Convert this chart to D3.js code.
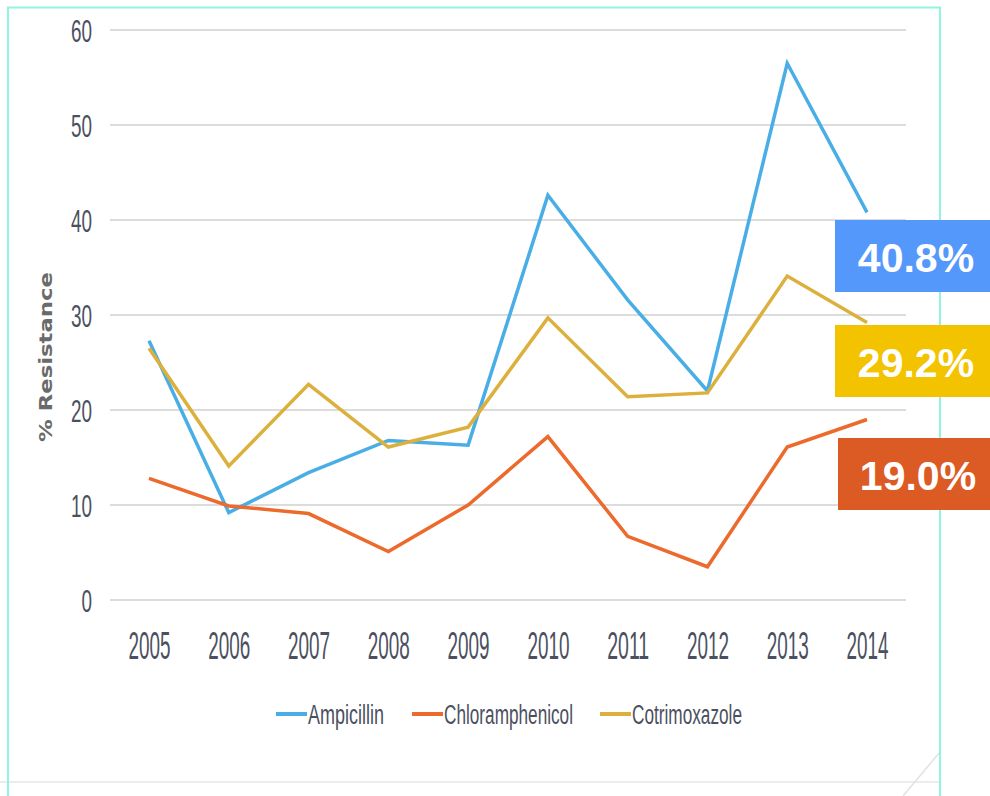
<!DOCTYPE html>
<html>
<head>
<meta charset="utf-8">
<script src="https://cdn.jsdelivr.net/npm/d3@7"></script>
<style>
  body { margin: 0; background: #fff; }
  svg { display: block; }
</style>
</head>
<body>
<svg id="chart" width="990" height="796"></svg>
<script>
var YEARS = ['2005','2006','2007','2008','2009','2010','2011','2012','2013','2014'];
var AMPICILLIN = [27.3, 9.2, 13.4, 16.8, 16.3, 42.6, 31.6, 22.0, 56.5, 40.8];
var CHLORAMPHENICOL = [12.8, 9.9, 9.1, 5.1, 10.0, 17.2, 6.7, 3.5, 16.1, 19.0];
var COTRIMOXAZOLE = [26.5, 14.1, 22.7, 16.1, 18.2, 29.7, 21.4, 21.8, 34.1, 29.2];
var Y_TICKS = [0, 10, 20, 30, 40, 50, 60];
var SERIES_NAMES = ['Ampicillin', 'Chloramphenicol', 'Cotrimoxazole'];
var BADGES = ['40.8%', '29.2%', '19.0%'];

var series = [
    {name: SERIES_NAMES[0], values: AMPICILLIN, color: '#4aaee6'},
    {name: SERIES_NAMES[1], values: CHLORAMPHENICOL, color: '#ec6a2c'},
    {name: SERIES_NAMES[2], values: COTRIMOXAZOLE, color: '#dcb03c'}
];

var svg = d3.select('#chart');
var tickFont = '"Liberation Sans", Arial, sans-serif';
var textColor = '#4b5060';

// frame
svg.append('line').attr('x1', 0).attr('x2', 940).attr('y1', 782).attr('y2', 782)
    .attr('stroke', '#ececec').attr('stroke-width', 2);
svg.append('line').attr('x1', 903).attr('x2', 940).attr('y1', 796).attr('y2', 752)
    .attr('stroke', '#e2e2e2').attr('stroke-width', 1.5);
svg.append('path').attr('d', 'M8,800V7.5H940V800')
    .attr('fill', 'none').attr('stroke', '#90f5dc').attr('stroke-width', 2);

var x = d3.scalePoint().domain(YEARS).range([149, 867]);
var y = d3.scaleLinear().domain([0, 60]).range([600, 30]);

// gridlines
svg.append('g')
    .selectAll('line')
    .data(Y_TICKS)
    .enter()
    .append('line')
    .attr('x1', 110).attr('x2', 906)
    .attr('y1', d => y(d)).attr('y2', d => y(d))
    .attr('stroke', '#dcdcdc').attr('stroke-width', 2);

// y axis - condensed look via textLength
var yAxis = svg.append('g')
    .attr('transform', 'translate(92,0)')
    .call(d3.axisLeft(y).tickValues(Y_TICKS).tickSize(0).tickPadding(0));
yAxis.select('.domain').remove();
yAxis.selectAll('text')
    .attr('font-family', tickFont).attr('font-size', 32)
    .attr('fill', textColor).attr('dy', '0.36em')
    .attr('textLength', d => String(d).length * 10.5)
    .attr('lengthAdjust', 'spacingAndGlyphs');

// x axis
var xAxis = svg.append('g')
    .attr('transform', 'translate(0,632)')
    .call(d3.axisBottom(x).tickSize(0).tickPadding(0));
xAxis.select('.domain').remove();
xAxis.selectAll('text')
    .attr('font-family', tickFont).attr('font-size', 38)
    .attr('fill', textColor).attr('dy', '0.72em')
    .attr('textLength', 42)
    .attr('lengthAdjust', 'spacingAndGlyphs');

// y label
svg.append('text')
    .attr('transform', 'translate(52,357) rotate(-90)')
    .attr('text-anchor', 'middle')
    .attr('font-family', '"DejaVu Sans", sans-serif')
    .attr('font-weight', 'bold')
    .attr('font-size', 18)
    .attr('textLength', 170)
    .attr('lengthAdjust', 'spacingAndGlyphs')
    .attr('fill', '#6a6a6a')
    .text('% Resistance');

// lines
var line = d3.line()
    .x((d, i) => x(YEARS[i]))
    .y(d => y(d));

svg.append('g')
    .selectAll('path')
    .data(series)
    .enter()
    .append('path')
    .attr('d', d => line(d.values))
    .attr('fill', 'none')
    .attr('stroke', d => d.color)
    .attr('stroke-width', 3.5)
    .attr('stroke-linejoin', 'miter');

// legend
var legendX = [276, 412, 600];
var legendW = [76, 129, 110];
var legend = svg.append('g').attr('transform', 'translate(0,714)');
var item = legend.selectAll('g')
    .data(series)
    .enter()
    .append('g')
    .attr('transform', (d, i) => 'translate(' + legendX[i] + ',0)');
item.append('line')
    .attr('x1', 0).attr('x2', 31).attr('y1', 0).attr('y2', 0)
    .attr('stroke', d => d.color).attr('stroke-width', 4);
item.append('text')
    .attr('x', 32).attr('dy', '0.36em')
    .attr('font-family', tickFont).attr('font-size', 27)
    .attr('textLength', (d, i) => legendW[i])
    .attr('lengthAdjust', 'spacingAndGlyphs')
    .attr('fill', textColor)
    .text(d => d.name);

// value badges
var badges = [
    {text: BADGES[0], color: '#5598fb', x0: 835, y0: 220},
    {text: BADGES[1], color: '#f3c300', x0: 835, y0: 325},
    {text: BADGES[2], color: '#dc5a24', x0: 838, y0: 438}
];
var badge = svg.append('g')
    .selectAll('g')
    .data(badges)
    .enter()
    .append('g');
badge.append('rect')
    .attr('x', d => d.x0).attr('y', d => d.y0)
    .attr('width', d => 990 - d.x0).attr('height', 72)
    .attr('fill', d => d.color);
badge.append('text')
    .attr('x', (d, i) => i === 2 ? 918 : 916).attr('y', d => d.y0 + 37)
    .attr('dy', '0.36em')
    .attr('text-anchor', 'middle')
    .attr('font-family', '"Liberation Sans", Arial, sans-serif')
    .attr('font-weight', 'bold')
    .attr('font-size', 41)
    .attr('fill', '#fff')
    .text(d => d.text);
</script>
</body>
</html>
